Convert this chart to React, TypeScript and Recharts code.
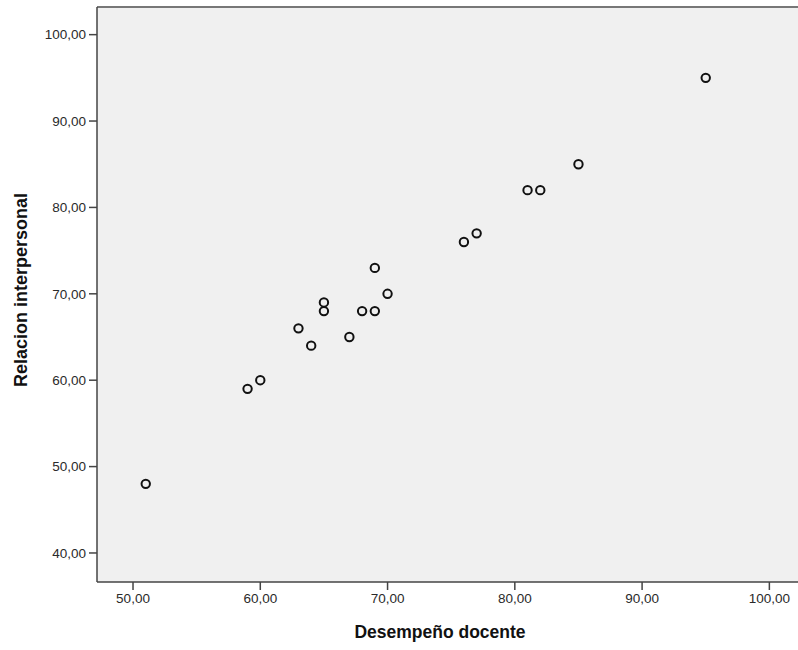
import { CartesianGrid, ReferenceLine, Scatter, ScatterChart, XAxis, YAxis } from 'recharts';

// Desempeño docente (x) vs Relacion interpersonal (y)
const desempeno = [51, 59, 60, 63, 64, 65, 65, 67, 68, 69, 69, 70, 76, 77, 81, 82, 85, 95];
const relacion = [48, 59, 60, 66, 64, 69, 68, 65, 68, 73, 68, 70, 76, 77, 82, 82, 85, 95];

const xTicks = [50, 60, 70, 80, 90, 100];
const yTicks = [40, 50, 60, 70, 80, 90, 100];

const points = desempeno.map((x, i) => ({ x, y: relacion[i] }));

const fmt = (v: number) => v.toFixed(2).replace('.', ',');

const FONT = '"Liberation Sans", Arial, sans-serif';

const Ring = (props: any) => {
  const { cx, cy } = props;
  if (cx == null || cy == null) return null;
  return <circle cx={cx} cy={cy} r={4.2} fill="none" stroke="#111" strokeWidth={2} />;
};

export default function App() {
  return (
    <div style={{ position: 'absolute', left: 0, top: 0, width: 798, height: 650, overflow: 'hidden', background: '#fff' }}>
      <ScatterChart width={798} height={650} margin={{ top: 7, right: 0, bottom: 0, left: 0 }}>
        <CartesianGrid horizontal={false} vertical={false} fill="#f0f0f0" />
        <XAxis
          type="number"
          dataKey="x"
          domain={[47.17, 102.25]}
          allowDataOverflow
          ticks={xTicks}
          tickFormatter={fmt}
          height={68}
          tickSize={8}
          tickMargin={3}
          stroke="#444"
          strokeWidth={1.5}
          tick={{ fill: '#2a2a2a', fontSize: 13.5, fontFamily: FONT }}
          label={() => (
            <text x={440} y={638} textAnchor="middle" fontFamily={FONT} fontSize={17.5} fontWeight="bold" fill="#111">
              Desempeño docente
            </text>
          )}
        />
        <YAxis
          type="number"
          dataKey="y"
          domain={[36.64, 103.2]}
          allowDataOverflow
          ticks={yTicks}
          tickFormatter={fmt}
          width={97}
          tickSize={8}
          tickMargin={3}
          stroke="#444"
          strokeWidth={1.5}
          tick={{ fill: '#2a2a2a', fontSize: 13.5, fontFamily: FONT }}
          label={() => (
            <text
              x={27}
              y={290}
              transform="rotate(-90 27 290)"
              textAnchor="middle"
              fontFamily={FONT}
              fontSize={18}
              fontWeight="bold"
              fill="#111"
            >
              Relacion interpersonal
            </text>
          )}
        />
        <ReferenceLine y={103.2} stroke="#777" strokeWidth={2} ifOverflow="visible" />
        <Scatter data={points} shape={<Ring />} isAnimationActive={false} />
      </ScatterChart>
    </div>
  );
}
